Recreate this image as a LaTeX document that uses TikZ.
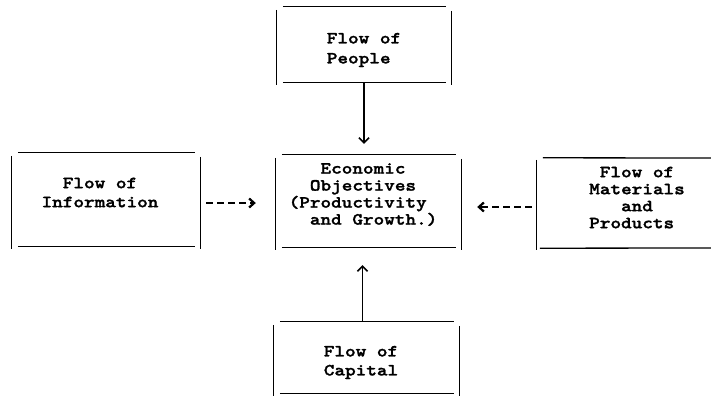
\documentclass[tikz,border=0pt]{standalone}
\usepackage{fontspec}
\newfontfamily\twfont[FakeStretch=1.19, FakeBold=1.6]{lmmonolt10-bold.otf}
\usetikzlibrary{arrows.meta}
\tikzset{
  boxarea/.style={draw=none, rectangle, inner sep=0pt},
  txt/.style={inner sep=0pt},
  rule/.style={line width=1.3pt, black},
  vline/.style={line width=1.1pt, -{Straight Barb[length=5pt,width=10pt,line width=1.6pt]}},
  dasharrow/.style={line width=2.4pt, dash pattern=on 7pt off 4pt, -{Straight Barb[length=5pt,width=9pt,line width=2.2pt]}}
}
\newcommand\twframe[1]{%
  \draw[rule] ([xshift=6pt]#1.north west) -- ([xshift=-5pt]#1.north east);
  \draw[rule] ([xshift=6pt]#1.south west) -- ([xshift=-5pt]#1.south east);
  \draw[rule] ([yshift=-3pt]#1.north west) -- ([yshift=-3pt]#1.south west);
  \draw[rule] ([yshift=-4pt]#1.north east) -- ([yshift=-3pt]#1.south east);
}
\newcommand\twsize[1]{\twfont\fontsize{17}{#1}\selectfont}
\begin{document}
\begin{tikzpicture}[x=1pt,y=-1pt]
\useasboundingbox[fill=white] (0,0) rectangle (711,396);

% box areas
\node[boxarea, minimum width=174pt, minimum height=75pt] (people) at (364,44.5) {};
\node[boxarea, minimum width=188pt, minimum height=93pt] (info) at (106,199.5) {};
\node[boxarea, minimum width=185pt, minimum height=92pt] (econ) at (368.5,201) {};
\node[boxarea, minimum width=183pt, minimum height=90pt] (mat) at (628.5,203) {};
\node[boxarea, minimum width=185pt, minimum height=71pt] (cap) at (366.5,357.5) {};

% frames
\twframe{people}
\twframe{info}
\twframe{econ}
\twframe{cap}
\draw[rule] ([xshift=6pt]mat.north west) -- (711,158);
\draw[rule] ([xshift=3pt]mat.south west) -- (711,248);
\draw[rule] ([yshift=-2pt]mat.north west) -- ([yshift=-2pt]mat.south west);

% texts
\node[txt, align=left, font=\twsize{20}] (peopletxt) at (364,50) {Flow of\\People};
\node[txt, align=center, font=\twsize{19}] (infotxt) at (100,192.5) {Flow of\\Information};
\node[txt, align=left, font=\twsize{17}] (econtxt) at (363,194.5)
  {\phantom{000}Economic\\\phantom{00}Objectives\\(Productivity\\\phantom{00}and Growth.)};
\node[txt, align=left, font=\twsize{17}] (mattxt) at (637,197.5)
  {\phantom{0}Flow of\\Materials\\\phantom{000}and\\Products};
\node[txt, align=left, font=\twsize{19}] (captxt) at (361,362.5) {Flow of\\Capital};

% connectors
\draw[vline, shorten >=11pt] (people.south) -- (people.south |- econ.north);
\draw[vline, shorten >=18pt] ([xshift=-4pt]cap.north) -- ([xshift=-4pt]cap.north |- econ.south);
\draw[dasharrow, shorten <=6pt, shorten >=20pt] ([yshift=-3.5pt]info.east) -- ([yshift=-3.5pt]info.east -| econ.west);
\draw[dasharrow, shorten <=5pt, shorten >=16pt] ([yshift=-4pt]mat.west) -- ([yshift=-4pt]mat.west -| econ.east);
\end{tikzpicture}
\end{document}
